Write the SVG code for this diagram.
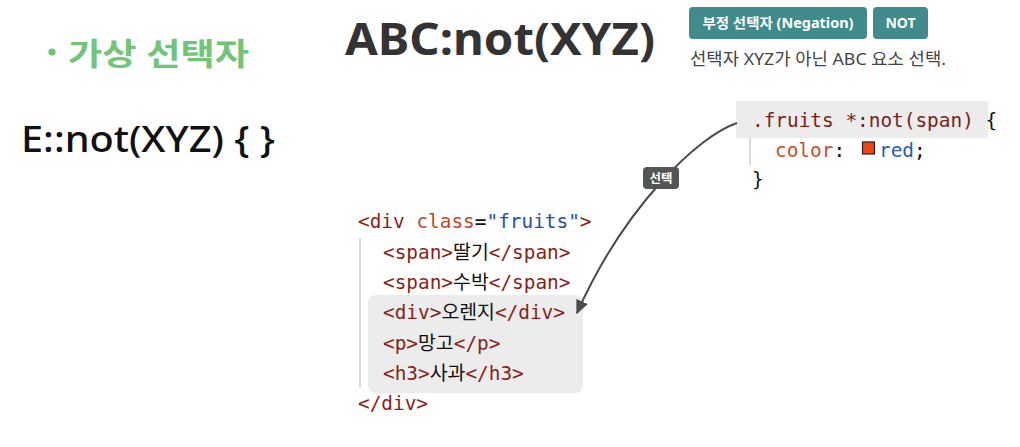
<svg xmlns="http://www.w3.org/2000/svg" width="1020" height="447" viewBox="0 0 1020 447">
  <style>
    .kr { font-family: "Noto Sans", "Noto Sans CJK KR", sans-serif; }
    .code { font-family: "DejaVu Sans Mono", "Noto Sans CJK KR", monospace; font-size: 19.4px; fill: #111; }
    .tag { fill: #8a1f17; }
    .attr { fill: #c4472a; }
    .str { fill: #2050b0; }
    .sel { fill: #7a1f1a; }
    .prop { fill: #c4502c; }
    .val { fill: #2a5ea8; }
    .badge { fill: #418b8c; }
    .badgetext { font-family: "Noto Sans", "Noto Sans CJK KR", sans-serif; font-size: 14px; font-weight: bold; fill: #fff; }
  </style>
  <defs>
    <marker id="arrow" viewBox="0 0 10 10" refX="9" refY="5" markerWidth="14" markerHeight="14" markerUnits="userSpaceOnUse" orient="auto">
      <path d="M0,0.5 L10,5 L0,9.5 Z" fill="#4a4a4a"/>
    </marker>
  </defs>
  <rect width="1020" height="447" fill="#ffffff"/>

  <g id="heading-left">
    <circle cx="52" cy="52" r="3.6" fill="#72c476"/>
    <text x="68" y="65" class="kr" font-size="31" font-weight="bold" fill="#72c476" textLength="181" lengthAdjust="spacingAndGlyphs">가상 선택자</text>
  </g>

  <g id="syntax">
    <text x="21" y="152" font-family="Noto Sans, sans-serif" font-size="37" font-weight="500" fill="#111" textLength="254" lengthAdjust="spacingAndGlyphs">E::not(XYZ) { }</text>
  </g>

  <g id="title">
    <text x="345" y="55" font-family="Noto Sans, sans-serif" font-size="45" font-weight="bold" fill="#333" textLength="310" lengthAdjust="spacingAndGlyphs">ABC:not(XYZ)</text>
  </g>

  <g id="badge-negation">
    <rect x="689" y="7" width="178" height="32" rx="4" class="badge"/>
    <text x="778" y="28" text-anchor="middle" class="badgetext" textLength="151" lengthAdjust="spacingAndGlyphs">부정 선택자 (Negation)</text>
  </g>
  <g id="badge-not">
    <rect x="873" y="7" width="55" height="32" rx="4" class="badge"/>
    <text x="900.5" y="28" text-anchor="middle" class="badgetext">NOT</text>
  </g>
  <g id="description">
    <text x="690" y="65" class="kr" font-size="17" fill="#444" textLength="256" lengthAdjust="spacingAndGlyphs">선택자 XYZ가 아닌 ABC 요소 선택.</text>
  </g>

  <g id="css-code">
    <rect x="736" y="101" width="252" height="37" fill="#ececec"/>
    <line x1="750" y1="138" x2="750" y2="165" stroke="#cfcfcf" stroke-width="1.5"/>
    <text x="752" y="127" class="code"><tspan class="sel">.fruits *:not(span)</tspan> {</text>
    <text x="775" y="157" class="code"><tspan class="prop">color</tspan>:</text>
    <rect x="862.5" y="142" width="12" height="12" fill="#ee4512" stroke="#222" stroke-width="1.2"/>
    <text x="879" y="157" class="code"><tspan class="val">red</tspan>;</text>
    <text x="752" y="186" class="code">}</text>
  </g>

  <g id="html-code">
    <rect x="368" y="295" width="215" height="98" rx="8" fill="#ececec"/>
    <line x1="360" y1="238" x2="360" y2="388" stroke="#cfcfcf" stroke-width="1.5"/>
    <text x="358" y="228" class="code"><tspan class="tag">&lt;div</tspan> <tspan class="attr">class</tspan>=<tspan class="str">"fruits"</tspan><tspan class="tag">&gt;</tspan></text>
    <text x="383" y="259" class="code"><tspan class="tag">&lt;span&gt;</tspan>딸기<tspan class="tag">&lt;/span&gt;</tspan></text>
    <text x="383" y="289" class="code"><tspan class="tag">&lt;span&gt;</tspan>수박<tspan class="tag">&lt;/span&gt;</tspan></text>
    <text x="383" y="319" class="code"><tspan class="tag">&lt;div&gt;</tspan>오렌지<tspan class="tag">&lt;/div&gt;</tspan></text>
    <text x="383" y="350" class="code"><tspan class="tag">&lt;p&gt;</tspan>망고<tspan class="tag">&lt;/p&gt;</tspan></text>
    <text x="383" y="380" class="code"><tspan class="tag">&lt;h3&gt;</tspan>사과<tspan class="tag">&lt;/h3&gt;</tspan></text>
    <text x="358" y="410" class="code"><tspan class="tag">&lt;/div&gt;</tspan></text>
  </g>

  <g id="connectors">
    <path d="M737,123 C700,135 625,205 577,313" fill="none" stroke="#4a4a4a" stroke-width="2" marker-end="url(#arrow)"/>
    <rect x="643" y="167" width="36" height="22" rx="4" fill="#555"/>
    <text x="661" y="183" text-anchor="middle" class="kr" font-size="12.5" font-weight="bold" fill="#fff">선택</text>
  </g>
</svg>
